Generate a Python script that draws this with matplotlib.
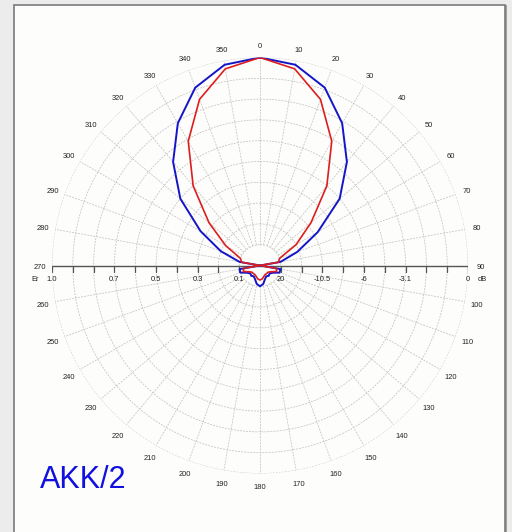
import numpy as np
import matplotlib.pyplot as plt
from matplotlib.patches import Rectangle

# ── Data: relative field strength Er every 10 degrees (0..350) ──
angles_deg = np.arange(0, 360, 10)

blue_er = [1.00, 0.98, 0.91, 0.79, 0.65, 0.50, 0.32, 0.19, 0.10, 0.00,
           0.10, 0.10, 0.07, 0.06, 0.065, 0.06, 0.07, 0.09, 0.10, 0.09,
           0.07, 0.06, 0.065, 0.06, 0.07, 0.10, 0.10, 0.00, 0.10, 0.20,
           0.33, 0.50, 0.65, 0.79, 0.91, 0.98]

red_er = [1.00, 0.96, 0.85, 0.69, 0.50, 0.32, 0.20, 0.10, 0.09, 0.00,
          0.08, 0.085, 0.06, 0.05, 0.05, 0.05, 0.055, 0.065, 0.07, 0.065,
          0.055, 0.05, 0.05, 0.05, 0.06, 0.085, 0.08, 0.00, 0.09, 0.10,
          0.19, 0.32, 0.50, 0.69, 0.85, 0.96]

er_ticks = [1.0, 0.7, 0.5, 0.3, 0.1]
er_labels = ["1.0", "0.7", "0.5", "0.3", "0.1"]
db_labels = ["0", "-3.1", "-6", "-10.5", "20"]
title_text = "AKK/2"

# ── Figure + panel ──────────────────────────────────────
fig = plt.figure(figsize=(5.12, 5.32), dpi=100, facecolor="#ececec")
W, H = 512, 532
fig.patches.append(Rectangle((15.5 / W, 0), 491 / W, 1 - 5 / H, transform=fig.transFigure,
                             facecolor="#a0a0a0", edgecolor="none", zorder=-2))
fig.patches.append(Rectangle((13.5 / W, -0.01), 491 / W, 1 - 5 / H + 0.01, transform=fig.transFigure,
                             facecolor="#fdfdfb", edgecolor="#7a7a7a", linewidth=1.2, zorder=-1))

cx, cy, R = 260, 265.5, 208
ax = fig.add_axes([(cx - R) / W, (H - cy - R) / H, 2 * R / W, 2 * R / H], projection="polar")
ax.set_theta_zero_location("N")
ax.set_theta_direction(-1)
ax.set_rlim(0, 1)
ax.set_facecolor("none")
ax.grid(False)
ax.set_xticks([])
ax.set_yticks([])
ax.spines["polar"].set_visible(False)

grid_kw = dict(color="#c2c2c2", lw=0.55, ls=(0, (2.5, 1.5)), zorder=1)
# grid circles
th = np.linspace(0, 2 * np.pi, 721)
for r in np.arange(0.1, 1.01, 0.1):
    ax.plot(th, np.full_like(th, r), **grid_kw)
# radial lines
for a in range(0, 360, 10):
    if a in (90, 270):
        continue
    t = np.radians(a)
    ax.plot([t, t], [0.1, 1.0], **grid_kw)

# horizontal scale axis
ax.plot([np.radians(270), 0, np.radians(90)], [1.0, 0, 1.0], color="#555555", lw=1.0, zorder=2)
tick_r = np.arange(0.1, 1.01, 0.1)
ax.plot(np.full_like(tick_r, np.radians(270)), tick_r, ls="none", marker=3, ms=4.5,
        mew=0.9, color="#555555", zorder=2)
ax.plot(np.full_like(tick_r, np.radians(90)), tick_r, ls="none", marker=3, ms=4.5,
        mew=0.9, color="#555555", zorder=2)

lab_kw = dict(fontsize=5.4, color="#222222", ha="center", va="center", family="Liberation Sans",
              textcoords="offset points", annotation_clip=False)
for v, s in zip(er_ticks, er_labels):
    ax.annotate(s, (np.radians(270), v), xytext=(0, -10), **lab_kw)
for v, s in zip(er_ticks, db_labels):
    ax.annotate(s, (np.radians(90), v), xytext=(0, -10), **lab_kw)
ax.annotate("Er", (np.radians(270), 1.0), xytext=(-12, -10), **lab_kw)
ax.annotate("dB", (np.radians(90), 1.0), xytext=(10, -10), **lab_kw)

# angle labels
for a in range(0, 360, 10):
    ax.annotate(str(a), (np.radians(a), 1.06), xytext=(0, -1.2), **lab_kw)

# patterns
th_c = np.radians(np.append(angles_deg, 360))
ax.plot(th_c, np.append(blue_er, blue_er[0]), color="#1414c8", lw=1.4, zorder=4)
ax.plot(th_c, np.append(red_er, red_er[0]), color="#dc1e1e", lw=1.2, zorder=5)

fig.text(83 / W, 1 - 480 / H, title_text, fontsize=22, color="#1010e0",
         ha="center", va="center", family="Liberation Sans")

fig.savefig("out.png", dpi=100, facecolor=fig.get_facecolor())
